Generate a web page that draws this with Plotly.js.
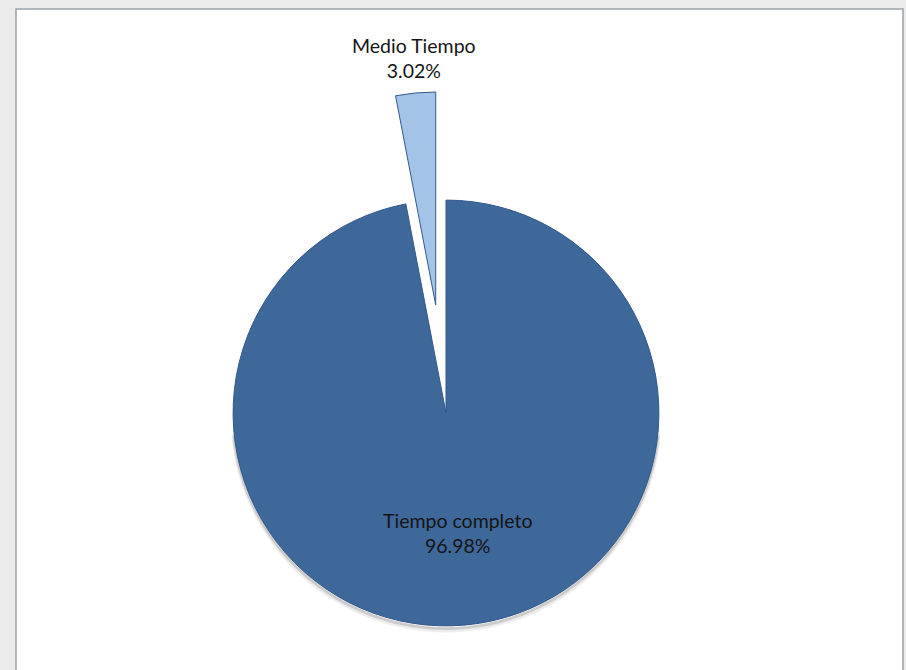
<!DOCTYPE html>
<html>
<head>
<meta charset="utf-8">
<script src="https://cdn.plot.ly/plotly-3.0.1.min.js"></script>
<style>
  html, body { margin: 0; padding: 0; overflow: hidden; background: #ebebeb; }
  #chart { width: 906px; height: 826px; }
</style>
</head>
<body>
<div id="chart"></div>
<script>
const categories = ['Tiempo completo', 'Medio Tiempo'];
const values = [96.98, 3.02];
const sliceColors = ['#3e679a', '#a4c3e8'];
const pulls = [0, 0.51];

const W = 906, H = 826;
const cx = 446, cy = H / 2, boxW = 643;
const maxPull = Math.max(...pulls);
const R = boxW / (2 * (1 + maxPull));

const trace = {
  type: 'pie',
  labels: categories,
  values: values,
  sort: false,
  direction: 'clockwise',
  rotation: 0,
  pull: pulls,
  marker: { colors: sliceColors, line: { color: '#33598a', width: 1 } },
  textinfo: 'none',
  hoverinfo: 'label+percent',
  showlegend: false,
  domain: { x: [(cx - boxW / 2) / W, (cx + boxW / 2) / W], y: [0, 1] }
};

// label positions derived from slice geometry (clockwise from 12 o'clock)
const total = values.reduce((a, b) => a + b, 0);
const annFont = { family: 'Lato, "Open Sans", sans-serif', size: 19.5, color: '#151515' };
const annotations = [];
let cum = 0;
values.forEach((v, i) => {
  const frac = v / total;
  const mid = (cum + frac / 2) * 2 * Math.PI;
  cum += frac;
  const dx = Math.sin(mid), dy = -Math.cos(mid);
  const text = categories[i] + '<br>' + (frac * 100).toFixed(2) + '%';
  if (pulls[i] > 0) {
    const rr = R * (1 + pulls[i]);
    annotations.push({
      xref: 'paper', yref: 'paper', showarrow: false,
      x: (cx + dx * rr) / W, y: 1 - (cy + dy * rr) / H,
      xanchor: 'center', yanchor: 'bottom', yshift: 9, xshift: -2,
      text: text, font: annFont, align: 'center'
    });
  } else {
    const rr = R * 0.566;
    annotations.push({
      xref: 'paper', yref: 'paper', showarrow: false,
      x: (cx + dx * rr) / W, y: 1 - (cy + dy * rr) / H,
      xanchor: 'center', yanchor: 'middle',
      text: text, font: annFont, align: 'center'
    });
  }
});

// soft drop shadow along the lower rim of the pie
function rimPath(offset, a0, a1) {
  let d = '';
  for (let k = 0; k <= 60; k++) {
    const a = (a0 + (a1 - a0) * k / 60) * Math.PI / 180;
    const px = cx + Math.sin(a) * R;
    const py = cy - Math.cos(a) * R + offset;
    d += (k ? ' L ' : 'M ') + (px / W).toFixed(5) + ',' + (1 - py / H).toFixed(5);
  }
  return d;
}
const shadowShapes = [
  { off: 4, w: 5, c: 'rgba(0,0,0,0.07)' },
  { off: 2.5, w: 3, c: 'rgba(0,0,0,0.14)' }
].map(s => ({
  type: 'path', xref: 'paper', yref: 'paper', layer: 'below',
  path: rimPath(s.off, 95, 265),
  line: { color: s.c, width: s.w }
}));

const layout = {
  width: W,
  height: H,
  margin: { l: 0, r: 0, t: 0, b: 0 },
  paper_bgcolor: '#ebebeb',
  showlegend: false,
  annotations: annotations,
  shapes: [{
    type: 'rect', xref: 'paper', yref: 'paper', layer: 'below',
    x0: 16 / W, x1: 903 / W, y0: -0.1, y1: 1 - 9 / H,
    fillcolor: '#ffffff', line: { color: '#9aa3a9', width: 1.5 }
  }].concat(shadowShapes)
};

Plotly.newPlot('chart', [trace], layout, { displayModeBar: false, staticPlot: true });
</script>
</body>
</html>
